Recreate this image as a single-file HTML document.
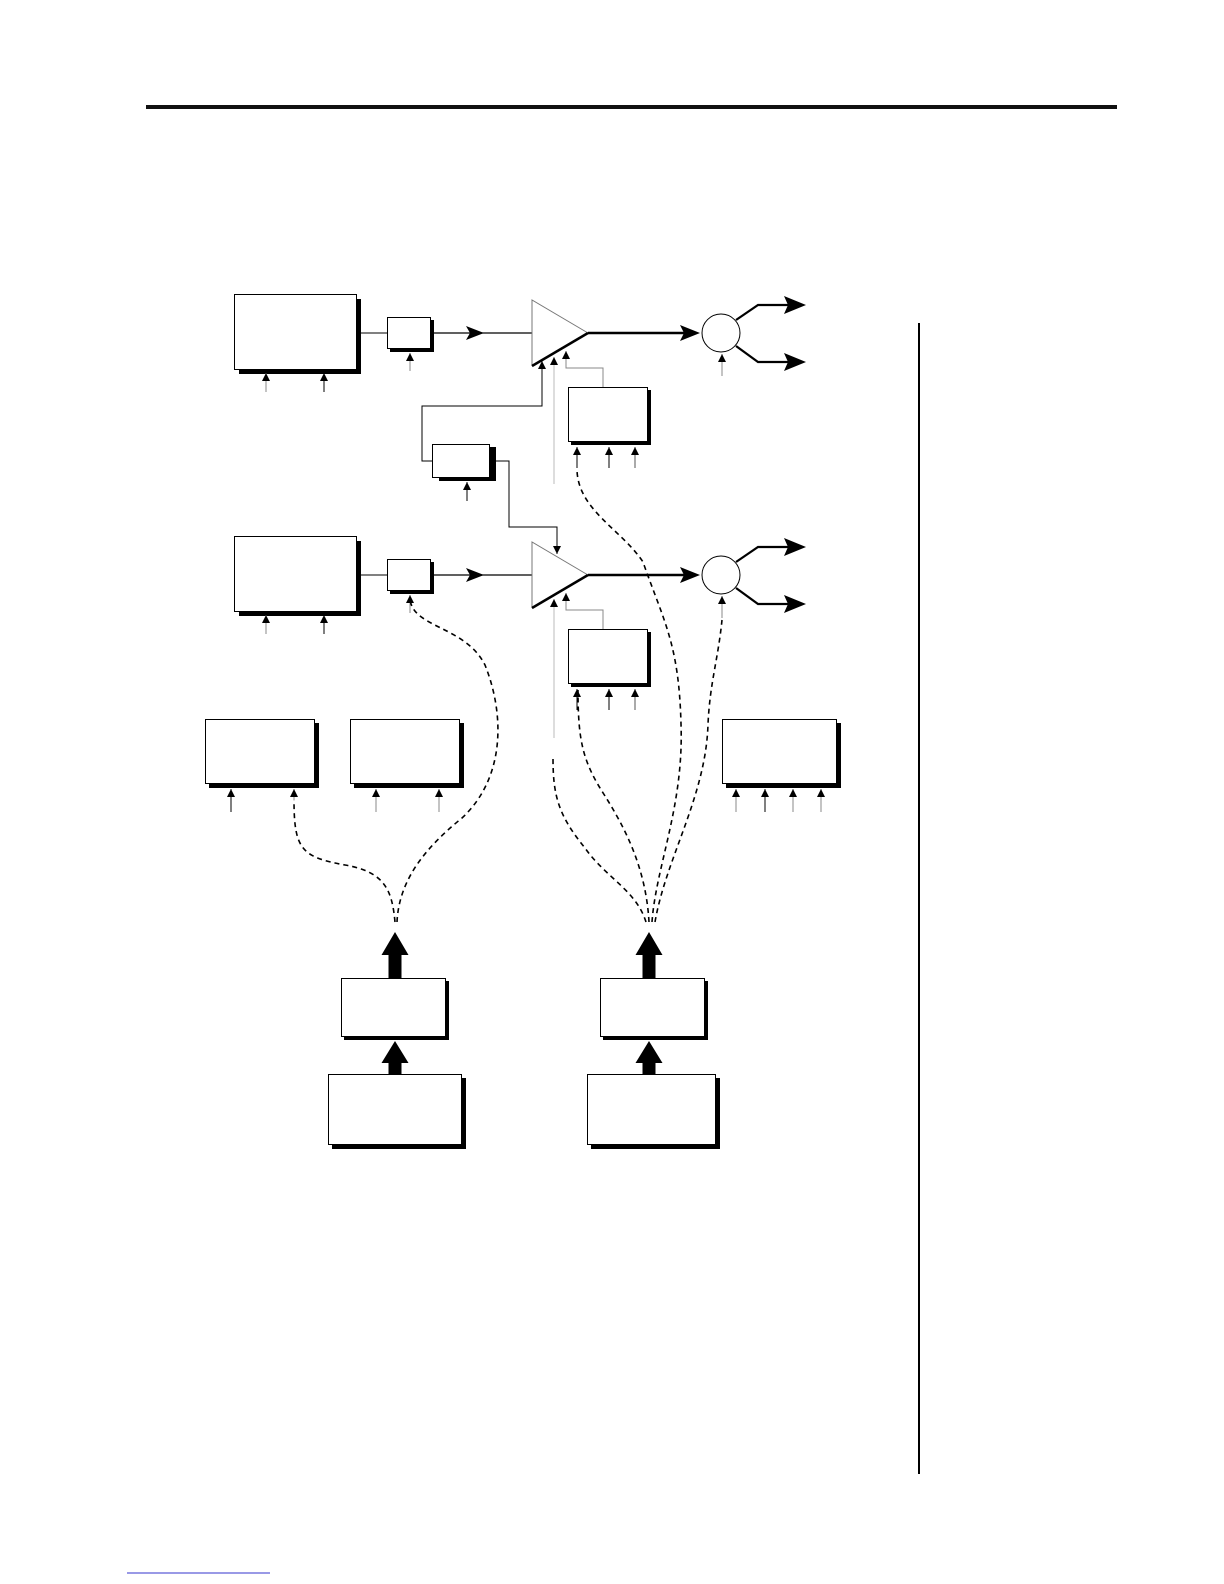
<!DOCTYPE html>
<html><head><meta charset="utf-8"><style>html,body{margin:0;padding:0;background:#fff}svg{display:block}</style></head>
<body>
<svg width="1224" height="1584" viewBox="0 0 1224 1584" xmlns="http://www.w3.org/2000/svg">
<defs>
<marker id="a" markerWidth="9" markerHeight="8" refX="8" refY="4" orient="auto" markerUnits="userSpaceOnUse"><path d="M0,0 L8,4 L0,8 Z" fill="#000"/></marker>
</defs>
<rect x="146" y="105" width="971" height="4" fill="#111"/>
<rect x="918" y="323" width="2" height="1151" fill="#000"/>
<line x1="127" y1="1573" x2="270" y2="1573" stroke="#33c" stroke-width="1"/>

<g id="row">
<rect x="239" y="299" width="122" height="75" fill="#000"/>
<rect x="234.5" y="294.5" width="122" height="75" fill="#fff" stroke="#000"/>
<line x1="266" y1="392" x2="266" y2="373" stroke="#888" marker-end="url(#a)"/>
<line x1="324" y1="392" x2="324" y2="373" stroke="#000" marker-end="url(#a)"/>
<line x1="357" y1="333" x2="387" y2="333" stroke="#000"/>
<rect x="390" y="320" width="44" height="32" fill="#000"/>
<rect x="387.5" y="317.5" width="43" height="31" fill="#fff" stroke="#000"/>
<line x1="410" y1="371" x2="410" y2="353" stroke="#888" marker-end="url(#a)"/>
<line x1="431" y1="333" x2="532" y2="333" stroke="#000" stroke-width="1.3"/>
<path d="M466,326 L484,333 L466,340 L470,333 Z" fill="#000"/>
<path d="M532,366 L532,300 L588,333" fill="#fff" stroke="#777" stroke-width="1"/>
<line x1="532" y1="366" x2="588" y2="333" stroke="#000" stroke-width="2.5"/>
<line x1="588" y1="333" x2="690" y2="333" stroke="#000" stroke-width="2.5"/>
<path d="M680,325 L700,333 L680,341 L684,333 Z" fill="#000"/>
<circle cx="721" cy="333" r="19" fill="#fff" stroke="#000" stroke-width="1"/>
<path d="M736,320 L758,305 L790,305" fill="none" stroke="#000" stroke-width="2.2"/>
<path d="M736,346 L758,362 L790,362" fill="none" stroke="#000" stroke-width="2.2"/>
<path d="M784,296 L806,305 L784,314 L788,305 Z" fill="#000"/>
<path d="M784,353 L806,362 L784,371 L788,362 Z" fill="#000"/>
<line x1="722" y1="376" x2="722" y2="354" stroke="#888" marker-end="url(#a)"/>
<rect x="571" y="390" width="80" height="55" fill="#000"/>
<rect x="568.5" y="387.5" width="79" height="54" fill="#fff" stroke="#000"/>
<line x1="577" y1="468" x2="577" y2="447" stroke="#000" marker-end="url(#a)"/>
<line x1="609" y1="468" x2="609" y2="447" stroke="#000" marker-end="url(#a)"/>
<line x1="635" y1="468" x2="635" y2="447" stroke="#555" marker-end="url(#a)"/>
<path d="M603,387 L603,368 L566,368 L566,351" fill="none" stroke="#888" marker-end="url(#a)"/>
</g>
<use href="#row" transform="translate(0,242)"/>

<line x1="554" y1="484" x2="554" y2="357" stroke="#bbb" marker-end="url(#a)"/>
<path d="M436,461 L422,461 L422,406 L542,406 L542,361" fill="none" stroke="#000" marker-end="url(#a)"/>
<rect x="439" y="447" width="57" height="34" fill="#000"/>
<rect x="432.5" y="444.5" width="57" height="33" fill="#fff" stroke="#000"/>
<line x1="467" y1="501" x2="467" y2="482" stroke="#000" marker-end="url(#a)"/>
<path d="M490,461 L509,461 L509,527 L557,527 L557,554" fill="none" stroke="#000" marker-end="url(#a)"/>
<line x1="554" y1="738" x2="554" y2="599" stroke="#bbb" marker-end="url(#a)"/>

<rect x="209" y="723" width="110" height="65" fill="#000"/>
<rect x="205.5" y="719.5" width="109" height="64" fill="#fff" stroke="#000"/>
<rect x="354" y="723" width="110" height="65" fill="#000"/>
<rect x="350.5" y="719.5" width="109" height="64" fill="#fff" stroke="#000"/>
<rect x="726" y="723" width="115" height="65" fill="#000"/>
<rect x="722.5" y="719.5" width="114" height="64" fill="#fff" stroke="#000"/>
<g stroke-width="1">
<line x1="231" y1="812" x2="231" y2="789" stroke="#000" marker-end="url(#a)"/>
<line x1="376" y1="812" x2="376" y2="789" stroke="#888" marker-end="url(#a)"/>
<line x1="439" y1="812" x2="439" y2="789" stroke="#888" marker-end="url(#a)"/>
<line x1="736" y1="812" x2="736" y2="789" stroke="#888" marker-end="url(#a)"/>
<line x1="765" y1="812" x2="765" y2="789" stroke="#000" marker-end="url(#a)"/>
<line x1="793" y1="812" x2="793" y2="789" stroke="#888" marker-end="url(#a)"/>
<line x1="821" y1="812" x2="821" y2="789" stroke="#888" marker-end="url(#a)"/>
<line x1="294" y1="800" x2="294" y2="789" stroke="#888" marker-end="url(#a)"/>
</g>

<g fill="none" stroke="#000" stroke-width="1.6" stroke-dasharray="5,4">
<path d="M395,922 C392,890 385,872 345,865 C302,857 294,850 294,800"/>
<path d="M397,922 C399,880 425,848 462,818 C505,778 505,715 485,665 C465,625 410,628 410,597"/>
<path d="M646,922 C636,890 606,878 585,848 C558,815 553,795 553,758"/>
<path d="M649,922 C646,868 625,828 605,796 C583,762 578,742 578,690"/>
<path d="M652,922 C656,866 684,806 681,724 C679,644 664,622 643,562 C622,530 578,510 577,470"/>
<path d="M655,922 C666,858 706,796 708,724 C710,682 718,660 722,620"/>
</g>

<rect x="344" y="981" width="105" height="59" fill="#000"/>
<rect x="341.5" y="978.5" width="104" height="58" fill="#fff" stroke="#000"/>
<rect x="603" y="981" width="105" height="59" fill="#000"/>
<rect x="600.5" y="978.5" width="104" height="58" fill="#fff" stroke="#000"/>
<rect x="332" y="1078" width="134" height="71" fill="#000"/>
<rect x="328.5" y="1074.5" width="133" height="70" fill="#fff" stroke="#000"/>
<rect x="591" y="1078" width="129" height="71" fill="#000"/>
<rect x="587.5" y="1074.5" width="128" height="70" fill="#fff" stroke="#000"/>
<path d="M388.5,978 L388.5,955 L381.5,955 L395,932 L408.5,955 L401.5,955 L401.5,978 Z" fill="#000"/>
<path d="M388.5,1074 L388.5,1063 L381.5,1063 L395,1041 L408.5,1063 L401.5,1063 L401.5,1074 Z" fill="#000"/>
<path d="M642.5,978 L642.5,955 L635.5,955 L649,932 L662.5,955 L655.5,955 L655.5,978 Z" fill="#000"/>
<path d="M642.5,1074 L642.5,1063 L635.5,1063 L649,1041 L662.5,1063 L655.5,1063 L655.5,1074 Z" fill="#000"/>
</svg>
</body></html>
